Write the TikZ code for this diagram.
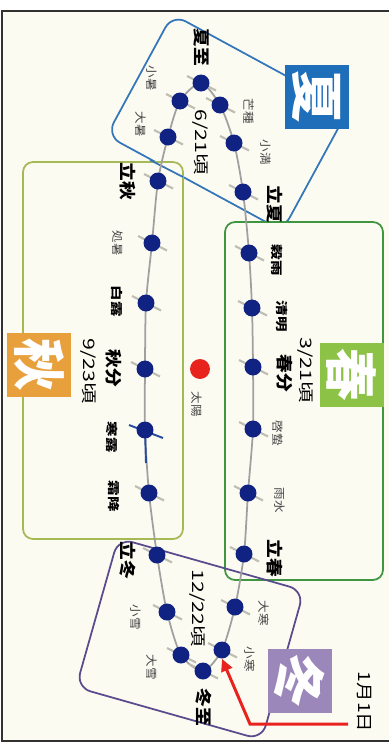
\documentclass[tikz,border=0pt]{standalone}
\usepackage{fontspec}
\setmainfont{Noto Sans CJK JP}
\usetikzlibrary{arrows.meta}
\definecolor{cream}{RGB}{252,251,242}
\definecolor{navy}{RGB}{16,35,130}
\definecolor{sumblue}{RGB}{52,118,186}
\definecolor{sumbadge}{RGB}{30,110,185}
\definecolor{sprgreen}{RGB}{64,150,64}
\definecolor{sprbadge}{RGB}{140,195,70}
\definecolor{autgreen}{RGB}{165,185,85}
\definecolor{autbadge}{RGB}{232,160,60}
\definecolor{winpurple}{RGB}{90,75,140}
\definecolor{winbadge}{RGB}{155,135,185}
\definecolor{sunred}{RGB}{232,35,30}
\definecolor{chaingray}{RGB}{160,160,160}
\definecolor{tickgray}{RGB}{190,190,180}
\definecolor{labgray}{RGB}{70,70,70}
\definecolor{tickblue}{RGB}{40,75,160}
\definecolor{framec}{RGB}{50,50,50}
\tikzset{
  lab/.style={rotate=-90, inner sep=0pt},
  major/.style={lab, xscale=1.12, font=\fontsize{9.5}{10}\selectfont\bfseries},
  minorb/.style={lab, xscale=1.3, font=\fontsize{6.8}{7}\selectfont\bfseries},
  minorg/.style={lab, xscale=1.1, text=labgray, font=\fontsize{6.5}{7}\selectfont},
  datelab/.style={lab, xscale=1.35, font=\fontsize{9}{10}\selectfont},
  dot/.style={circle, fill=navy, minimum size=0.34cm, inner sep=0pt},
  tickline/.style={tickgray, line width=1.2pt},
  chain/.style={chaingray, line width=1pt},
  badge/.style={minimum size=1.28cm, inner sep=0pt, text=white, font=\fontsize{30}{30}\selectfont\bfseries, rotate=-90},
  seasonbox/.style={line width=1pt, inner sep=0pt}
}
\begin{document}
\begin{tikzpicture}[x=0.02cm, y=-0.02cm]
\useasboundingbox (0,0) rectangle (389,744);
\fill[white] (0,0) rectangle (389,744);
\fill[cream] (2,11) rectangle (389,741);
\draw[framec, line width=1.6pt] (389,11) -- (2,11) -- (2,741) -- (389,741);

% season boxes
\node[seasonbox, draw=sumblue, rounded corners=0.3cm, minimum width=4cm, minimum height=2.76cm, rotate=-28.5] (sumbox) at (227.5,122.6) {};
\node[seasonbox, draw=autgreen, fill=cream, rounded corners=0.2cm, minimum width=3.2cm, minimum height=7.54cm] (autbox) at (103,350.5) {};
\draw[sumblue, line width=1pt] (150,160) -- (183,177);
\node[seasonbox, draw=sprgreen, fill=cream, rounded corners=0.2cm, minimum width=3.16cm, minimum height=7.16cm] (sprbox) at (304,401) {};
\node[seasonbox, draw=winpurple, rounded corners=0.3cm, minimum width=3.86cm, minimum height=3.1cm, rotate=-15.8] (winbox) at (190,639) {};

% badges
\node[badge, fill=sumbadge] (sumbadge) at (317,97) {夏};
\node[badge, fill=sprbadge] (sprbadge) at (352,375) {春};
\node[badge, fill=autbadge] (autbadge) at (39,365) {秋};
\node[badge, fill=winbadge] (winbadge) at (300,681) {冬};

% orbit positions
\foreach \n/\x/\y in {risshun/244/554, usui/248/493, keichitsu/253/429, shunbun/253/367,
  seimei/252/308, kokuu/249/253, rikka/243/192, shoman/234/143, boshu/220/105,
  geshi/201/83, shosho/180/101, taisho/168/137, risshu/158/181, shosho2/152/243,
  hakuro/146/303, shubun/145/369, kanro/145/430, soko/149/493, ritto/157/555,
  shosetsu/167/612, taisetsu/181/655, toji/203/671, shokan/222/650, daikan/235/607}
  {\coordinate (\n) at (\x,\y);}

\draw[chain] plot[smooth cycle, tension=0.45] coordinates {(risshun) (usui) (keichitsu) (shunbun) (seimei) (kokuu) (rikka) (shoman) (boshu) (geshi) (shosho) (taisho) (risshu) (shosho2) (hakuro) (shubun) (kanro) (soko) (ritto) (shosetsu) (taisetsu) (toji) (shokan) (daikan)};

\foreach \n in {risshun, usui, keichitsu, shunbun, seimei, kokuu, rikka, shoman, boshu,
  geshi, shosho, taisho, risshu, shosho2, hakuro, shubun, soko, ritto,
  shosetsu, taisetsu, toji, shokan, daikan}
  {\draw[tickline] ([shift={(-14,-7)}]\n) -- ([shift={(15,7.5)}]\n);}
\draw[tickblue, line width=1.1pt] ([shift={(-16,-5)}]kanro) -- ([shift={(18,8)}]kanro);
\coordinate (kanrolow) at (146,463);
\draw[tickblue, line width=1.1pt] (kanro) -- (kanrolow);

\foreach \n in {risshun, usui, keichitsu, shunbun, seimei, kokuu, rikka, shoman, boshu,
  geshi, shosho, taisho, risshu, shosho2, hakuro, shubun, kanro, soko, ritto,
  shosetsu, taisetsu, toji, shokan, daikan}
  {\node[dot] (d\n) at (\n) {};}

% sun
\node[circle, fill=sunred, minimum size=0.4cm, inner sep=0pt] (sun) at (200,369) {};
\node[minorg] (sunlab) at (197,404) {太陽};

% labels
\node[major] (l1) at (202,47) {夏至};
\node[minorg] (l2) at (249,111) {芒種};
\node[minorg] (l3) at (266,152) {小満};
\node[major] (l4) at (275,204) {立夏};
\node[minorg] (l5) at (152,78) {小暑};
\node[minorg] (l6) at (141,124) {大暑};
\node[major] (l7) at (128,181) {立秋};
\node[minorg] (l8) at (118,243) {処暑};
\node[minorb] (l9) at (117,301) {白露};
\node[major] (l10) at (114,368) {秋分};
\node[minorb] (l11) at (112,437) {寒露};
\node[minorb] (l12) at (114,496) {霜降};
\node[major] (l13) at (128,560) {立冬};
\node[minorg] (l14) at (136,617) {小雪};
\node[minorg] (l15) at (152,667) {大雪};
\node[major] (l16) at (204,707) {冬至};
\node[minorg] (l17) at (250,659) {小寒};
\node[minorg] (l18) at (264,613) {大寒};
\node[major] (l19) at (275,558) {立春};
\node[minorg] (l20) at (280,500) {雨水};
\node[minorg] (l21) at (278,433) {啓蟄};
\node[major] (l22) at (285,373) {春分};
\node[minorb] (l23) at (282,316) {清明};
\node[minorb] (l24) at (277,260) {穀雨};

\node[datelab] (t1) at (200,142) {6/21頃};
\node[datelab] (t2) at (305,370) {3/21頃};
\node[datelab] (t3) at (88,371) {9/23頃};
\node[datelab] (t4) at (197,608) {12/22頃};

% new year arrow
\node[lab, xscale=1.15, font=\fontsize{9.6}{10}\selectfont] (ny) at (364,702) {1月1日};
\coordinate (nystart) at (348,724);
\coordinate (nybend) at (250,724);
\draw[sunred, line width=1.7pt, -{Triangle[length=7pt,width=6.5pt]}] (nystart) -- (nybend) -- (dshokan.south);
\end{tikzpicture}
\end{document}
